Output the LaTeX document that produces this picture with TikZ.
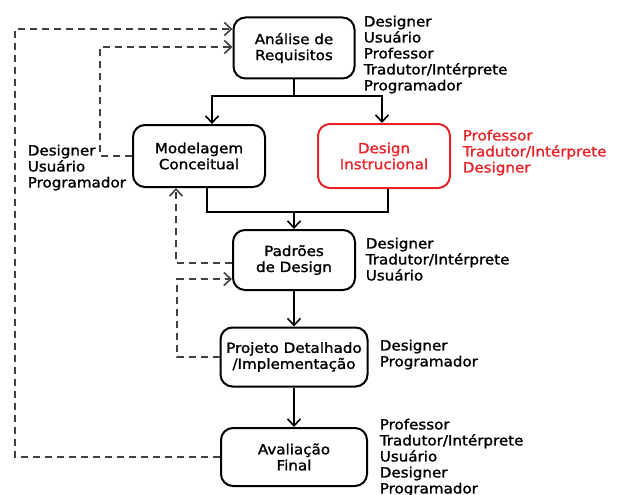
\documentclass[tikz,border=0pt]{standalone}
\usepackage{fontspec}
\setmainfont{DejaVu Sans}[FakeStretch=1.08, FakeBold=1.4]
\usetikzlibrary{arrows.meta}
\definecolor{vermelho}{HTML}{E8242A}
\definecolor{cinza}{HTML}{404040}
\tikzset{etapa/.style={draw, line width=2pt, rounded corners=12pt, align=center,
      inner sep=0pt, font=\fontsize{14}{16}\selectfont}}
\tikzset{rotulo/.style={anchor=north west, inner sep=0pt, align=left,
      font=\fontsize{14}{16}\selectfont}}
\tikzset{retorno/.style={cinza, line width=1.6pt, dash pattern=on 7pt off 5pt}}

\begin{document}
\begin{tikzpicture}[x=1pt,y=-1pt,line width=1.6pt,
    >={Straight Barb[length=7pt,width=13pt]}]
  \useasboundingbox (0,0) rectangle (619,495);
  % etapas
  \node[etapa, minimum width=121pt, minimum height=61pt] (req) at (294,48) {Análise de\\Requisitos};
  \node[etapa, minimum width=132pt, minimum height=62pt] (mod) at (199,156) {Modelagem\\Conceitual};
  \node[etapa, vermelho, minimum width=132pt, minimum height=64pt] (inst) at (384,156) {Design\\Instrucional};
  \node[etapa, minimum width=122pt, minimum height=60pt] (pad) at (294,260) {Padrões\\de Design};
  \node[etapa, minimum width=147pt, minimum height=59pt] (proj) at (294,357) {Projeto Detalhado\\/Implementação};
  \node[etapa, minimum width=146pt, minimum height=58pt] (aval) at (294,457) {Avaliação\\Final};
  % participantes
  \node[rotulo] (p-req) at (363,15) {Designer\\Usuário\\Professor\\Tradutor/Intérprete\\Programador};
  \node[rotulo] (p-mod) at (27,144) {Designer\\Usuário\\Programador};
  \node[rotulo, vermelho] (p-inst) at (462,129) {Professor\\Tradutor/Intérprete\\Designer};
  \node[rotulo] (p-pad) at (365,237) {Designer\\Tradutor/Intérprete\\Usuário};
  \node[rotulo] (p-proj) at (379,339) {Designer\\Programador};
  \node[rotulo] (p-aval) at (379,418) {Professor\\Tradutor/Intérprete\\Usuário\\Designer\\Programador};
  % fluxo principal
  \coordinate (j1) at (294,96);
  \coordinate (j2) at (294,212);
  \draw (req.south) -- (j1);
  \draw[->] (j1) -| ([xshift=13pt]mod.north);
  \draw[->] (j1) -| ([xshift=-2pt]inst.north);
  \draw ([xshift=8pt]mod.south) |- (j2) -| ([xshift=4pt]inst.south);
  \draw[->] (j2) -- (pad.north);
  \draw[->] (pad.south) -- (proj.north);
  \draw[->] (proj.south) -- (aval.north);
  % retornos
  \coordinate (c1) at (15,29);
  \coordinate (c2) at (100,47);
  \coordinate (c4) at (177,279);
  \draw[retorno,->] (aval.west) -| (c1) -- (c1 -| req.west);
  \draw[retorno,->] (mod.west) -| (c2) -- (c2 -| req.west);
  \draw[retorno,->] ([yshift=-3pt]pad.west) -| ([xshift=-23pt]mod.south);
  \draw[retorno,->] (proj.west) -| (c4) -- (c4 -| pad.west);
\end{tikzpicture}
\end{document}
